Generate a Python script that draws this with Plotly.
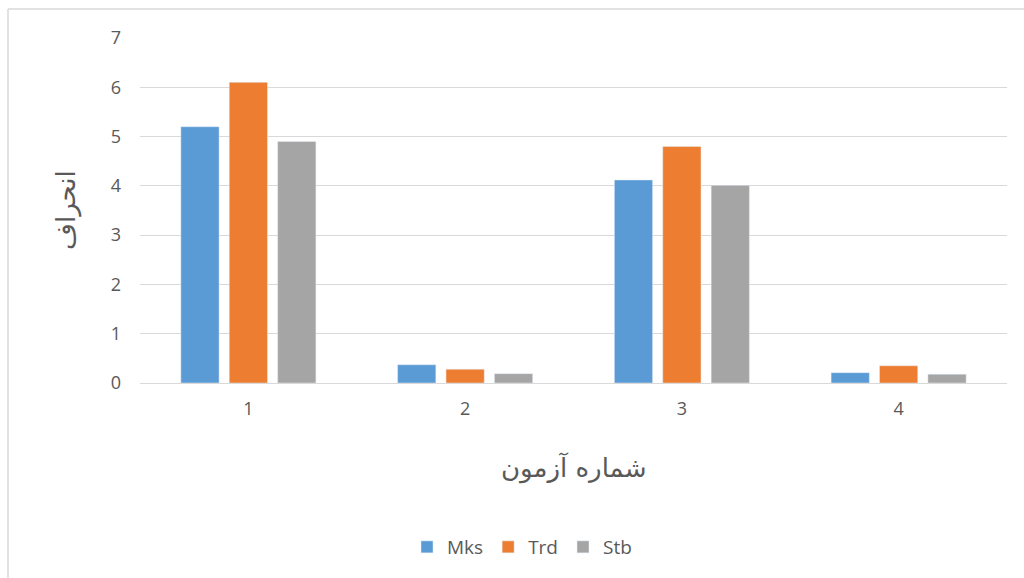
import plotly.graph_objects as go

# Test numbers on the category axis
tests = ["1", "2", "3", "4"]

# Deviation values per method
mks = [5.2, 0.37, 4.12, 0.21]
trd = [6.1, 0.28, 4.8, 0.35]
stb = [4.9, 0.19, 4.01, 0.18]

y_ticks = [0, 1, 2, 3, 4, 5, 6, 7]

W, H = 1024, 578
L, R, T, B = 140, 17, 38, 195

tick_font = dict(family="Open Sans, Liberation Sans, sans-serif", size=18, color="#595959")
legend_font = dict(family="Open Sans, Liberation Sans, sans-serif", size=19, color="#595959")
title_font = dict(family="DejaVu Sans, sans-serif", size=26, color="#595959")

fig = go.Figure()
fig.add_trace(go.Bar(name="Mks", x=tests, y=mks, marker_color="#5B9BD5"))
fig.add_trace(go.Bar(name="Trd", x=tests, y=trd, marker_color="#ED7D31"))
fig.add_trace(go.Bar(name="Stb", x=tests, y=stb, marker_color="#A5A5A5"))

plot_w = W - L - R
plot_h = H - T - B

fig.update_layout(
    width=W, height=H,
    margin=dict(l=L, r=R, t=T, b=B, pad=0),
    paper_bgcolor="white", plot_bgcolor="white",
    barmode="group", bargap=0.33, bargroupgap=0.21,
    showlegend=True,
    legend=dict(
        orientation="h", x=(522 - L) / plot_w, xanchor="center",
        y=(H - B - 547) / plot_h, yanchor="middle",
        font=legend_font, itemwidth=30, tracegroupgap=0,
        bgcolor="rgba(0,0,0,0)",
    ),
    xaxis=dict(
        type="category", showgrid=False, ticks="", showline=False,
        tickfont=tick_font, ticklabelstandoff=13, zeroline=False,
    ),
    yaxis=dict(
        range=[0, 7], tickvals=y_ticks, showgrid=True, gridcolor="#D9D9D9",
        gridwidth=1, zeroline=True, zerolinecolor="#D9D9D9", zerolinewidth=1,
        ticks="", showline=False, tickfont=tick_font, ticklabelstandoff=18,
    ),
    annotations=[
        dict(text="شماره آزمون", xref="paper", yref="paper",
             x=0.5, y=(H - B - 468) / plot_h, xanchor="center", yanchor="middle",
             showarrow=False, font=title_font),
        dict(text="انحراف", xref="paper", yref="paper",
             x=(66 - L) / plot_w, y=(H - B - 210) / plot_h, xanchor="center", yanchor="middle",
             textangle=-90, showarrow=False, font=title_font),
    ],
    shapes=[
        dict(type="line", xref="paper", yref="paper",
             x0=(8 - L) / plot_w, x1=(W + 10 - L) / plot_w,
             y0=(H - B - 9) / plot_h, y1=(H - B - 9) / plot_h,
             line=dict(color="#D9D9D9", width=1.5)),
        dict(type="line", xref="paper", yref="paper",
             x0=(8 - L) / plot_w, x1=(8 - L) / plot_w,
             y0=(H - B - 9) / plot_h, y1=(H - B - H - 10) / plot_h,
             line=dict(color="#D9D9D9", width=1.5)),
    ],
)

fig.write_html("out.html")
